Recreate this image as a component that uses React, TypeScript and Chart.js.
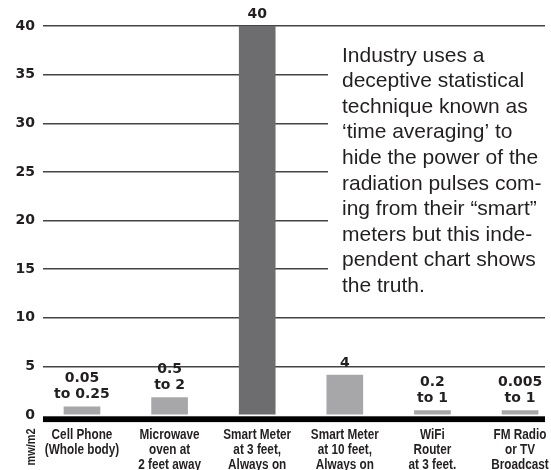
import React, { useEffect, useRef } from "react";
import { Chart, registerables } from "chart.js";

Chart.register(...registerables);

// ---------- data ----------
const CATEGORIES: string[][] = [
  ["Cell Phone", "(Whole body)"],
  ["Microwave", "oven at", "2 feet away"],
  ["Smart Meter", "at 3 feet,", "Always on"],
  ["Smart Meter", "at 10 feet,", "Always on"],
  ["WiFi", "Router", "at 3 feet."],
  ["FM Radio", "or TV", "Broadcast"],
];
const VALUES: number[] = [0.85, 1.8, 40, 4.1, 0.45, 0.45];
const VALUE_LABELS: string[][] = [
  ["0.05", "to 0.25"],
  ["0.5", "to 2"],
  ["40"],
  ["4"],
  ["0.2", "to 1"],
  ["0.005", "to 1"],
];
const HIGHLIGHT: boolean[] = [false, false, true, false, false, false];
const Y_MIN = 0;
const Y_MAX = 40;
const Y_STEP = 5;
const Y_TITLE = "mw/m2";
const NOTE_LINES: string[] = [
  "Industry uses a",
  "deceptive statistical",
  "technique known as",
  "\u2018time averaging\u2019 to",
  "hide the power of the",
  "radiation pulses com-",
  "ing from their \u201csmart\u201d",
  "meters but this inde-",
  "pendent chart shows",
  "the truth.",
];

// ---------- style ----------
const W = 551;
const H = 470;
const DARK_BAR = "#6d6d70";
const LIGHT_BAR = "#a7a7aa";
const TEXT = "#231f20";
const GRID = "#444444";
const BOLD_FAMILY = '"DejaVu Sans", Verdana, sans-serif';
const LABEL_FONT = 'bold 14px "Liberation Sans", Arial, sans-serif';
const TITLE_FONT = 'bold 13px "Liberation Sans", Arial, sans-serif';
const CONDENSE = 0.84;
const NOTE_FONT = '21px "Liberation Sans", Arial, sans-serif';

function condensedText(ctx: any, text: string, x: number, y: number) {
  ctx.save();
  ctx.translate(x, y);
  ctx.scale(CONDENSE, 1);
  ctx.fillText(text, 0, 0);
  ctx.restore();
}

const decorPlugin = {
  id: "decor",
  beforeDatasetsDraw(chart: any) {
    const ctx = chart.ctx;
    const area = chart.chartArea;
    // note box covering grid lines
    ctx.save();
    ctx.fillStyle = "#ffffff";
    ctx.fillRect(328, 33, W - 328, 274);
    ctx.fillStyle = TEXT;
    ctx.font = NOTE_FONT;
    ctx.textAlign = "left";
    ctx.textBaseline = "alphabetic";
    NOTE_LINES.forEach((line, i) => {
      ctx.fillText(line, 342, 61.5 + i * 25.6);
    });
    ctx.restore();
    // category labels, drawn at the x scale's tick positions
    const xs = chart.scales.x;
    ctx.save();
    ctx.fillStyle = TEXT;
    ctx.font = LABEL_FONT;
    ctx.textAlign = "center";
    ctx.textBaseline = "middle";
    CATEGORIES.forEach((lines, i) => {
      const x = xs.getPixelForValue(i);
      lines.forEach((t, j) => condensedText(ctx, t, x, area.bottom + 20 + j * 15));
    });
    ctx.restore();
    // y axis title
    ctx.save();
    ctx.translate(31, area.bottom + 32);
    ctx.rotate(-Math.PI / 2);
    ctx.fillStyle = TEXT;
    ctx.font = TITLE_FONT;
    ctx.textAlign = "center";
    ctx.textBaseline = "middle";
    condensedText(ctx, Y_TITLE, 0, 0);
    ctx.restore();
  },
  afterDatasetsDraw(chart: any) {
    const ctx = chart.ctx;
    const area = chart.chartArea;
    const y0 = chart.scales.y.getPixelForValue(0);
    ctx.save();
    // thick baseline
    ctx.fillStyle = "#000000";
    ctx.fillRect(area.left, y0 + 1.3, area.right - area.left, 5.8);
    // value labels
    const meta = chart.getDatasetMeta(0);
    ctx.fillStyle = TEXT;
    ctx.font = `bold 14px ${BOLD_FAMILY}`;
    ctx.textAlign = "center";
    ctx.textBaseline = "middle";
    meta.data.forEach((bar: any, i: number) => {
      const lines = VALUE_LABELS[i];
      const n = lines.length;
      lines.forEach((t, j) => {
        ctx.fillText(t, bar.x, bar.y - 12 - (n - 1 - j) * 16);
      });
    });
    ctx.restore();
  },
};

export default function App() {
  const ref = useRef<HTMLCanvasElement | null>(null);
  useEffect(() => {
    if (!ref.current) return;
    const chart = new Chart(ref.current, {
      type: "bar",
      data: {
        datasets: [
          {
            data: VALUES.map((v, i) => ({ x: i, y: v })),
            backgroundColor: HIGHLIGHT.map((h) => (h ? DARK_BAR : LIGHT_BAR)),
            borderWidth: 0,
            barThickness: 36,
          } as any,
        ],
      },
      options: {
        animation: false,
        responsive: false,
        devicePixelRatio: 1,
        layout: { padding: { top: 26, left: 0, right: 6, bottom: 0 } },
        plugins: {
          legend: { display: false },
          tooltip: { enabled: false },
        },
        scales: {
          x: {
            type: "linear",
            offset: false,
            min: -0.445,
            max: 5.285,
            grid: { display: false, drawTicks: false },
            border: { display: false },
            afterBuildTicks: (scale: any) => {
              scale.ticks = CATEGORIES.map((_, i) => ({ value: i }));
            },
            afterFit: (scale: any) => {
              scale.height = 55;
              scale.paddingLeft = 0;
              scale.paddingRight = 0;
            },
            ticks: { display: false },
          },
          y: {
            min: Y_MIN,
            max: Y_MAX,
            grid: {
              drawTicks: false,
              lineWidth: 1.5,
              color: (c: any) => (c.tick && c.tick.value === 0 ? "rgba(0,0,0,0)" : GRID),
            },
            border: { display: false },
            afterFit: (scale: any) => {
              scale.width = 43;
              scale.paddingTop = 0;
              scale.paddingBottom = 0;
            },
            ticks: {
              stepSize: Y_STEP,
              padding: 8,
              color: TEXT,
              font: { family: BOLD_FAMILY, size: 14, weight: "bold" },
            },
          },
        },
      } as any,
      plugins: [decorPlugin],
    });
    return () => chart.destroy();
  }, []);
  return (
    <div style={{ position: "fixed", left: 0, top: 0, width: W, height: H, background: "#fff" }}>
      <canvas ref={ref} width={W} height={H} style={{ display: "block" }} />
    </div>
  );
}
